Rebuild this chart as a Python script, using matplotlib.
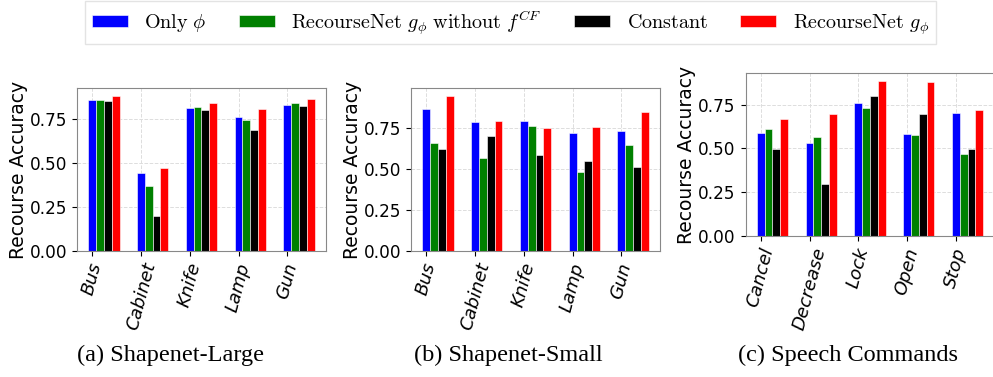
import matplotlib
matplotlib.use("Agg")
import matplotlib.pyplot as plt
from matplotlib.ticker import MultipleLocator
import numpy as np

plt.rcParams['mathtext.fontset'] = 'cm'

# category names per dataset
shapenet_cats = ['Bus', 'Cabinet', 'Knife', 'Lamp', 'Gun']
speech_cats = ['Cancel', 'Decrease', 'Lock', 'Open', 'Stop']

# recourse accuracy, one list per method (Only phi, w/o f_CF, Constant, RecourseNet)
large_only = [0.858, 0.445, 0.813, 0.761, 0.826]
large_nocf = [0.858, 0.371, 0.817, 0.742, 0.838]
large_const = [0.849, 0.200, 0.798, 0.685, 0.822]
large_rnet = [0.881, 0.472, 0.840, 0.807, 0.862]

small_only = [0.868, 0.787, 0.793, 0.721, 0.734]
small_nocf = [0.660, 0.569, 0.762, 0.483, 0.644]
small_const = [0.624, 0.699, 0.585, 0.550, 0.512]
small_rnet = [0.946, 0.793, 0.750, 0.758, 0.844]

speech_only = [0.587, 0.528, 0.761, 0.582, 0.700]
speech_nocf = [0.612, 0.564, 0.733, 0.578, 0.469]
speech_const = [0.497, 0.295, 0.800, 0.698, 0.497]
speech_rnet = [0.670, 0.694, 0.884, 0.876, 0.721]

labels = [r'$\mathrm{Only}\ \phi$',
          r'$\mathrm{RecourseNet}\ g_\phi\ \mathrm{without}\ f^{CF}$',
          r'$\mathrm{Constant}$',
          r'$\mathrm{RecourseNet}\ g_\phi$']
colors = ['blue', 'green', 'black', 'red']
captions = ['(a) Shapenet-Large', '(b) Shapenet-Small', '(c) Speech Commands']


def drawPanel(ax, cats, series):
    x = np.arange(len(cats))
    w = 0.16
    bars = []
    for k, vals in enumerate(series):
        b = ax.bar(x + k * w, vals, w, color=colors[k], edgecolor='white',
                   linewidth=0.4, label=labels[k])
        bars.append(b)
    ax.set_xticks(x)
    ax.set_xticklabels(cats, rotation=75, fontsize=13, style='italic')
    ax.yaxis.set_major_locator(MultipleLocator(0.25))
    ax.tick_params(axis='y', labelsize=12.2)
    ax.set_ylabel('Recourse Accuracy', fontsize=13.5, labelpad=1.5)
    ax.set_axisbelow(True)
    ax.grid(True, color='#dddddd', linestyle='--', linewidth=0.7)
    for s in ax.spines.values():
        s.set_color('#888888')
    return bars


fig = plt.figure(figsize=(9.93, 3.77), dpi=100)
ax1 = fig.add_axes([0.0775, 0.3342, 0.2508, 0.4324])
ax2 = fig.add_axes([0.4139, 0.3342, 0.2508, 0.4324])
ax3 = fig.add_axes([0.7508, 0.374, 0.2508, 0.4316])

bars = drawPanel(ax1, shapenet_cats, [large_only, large_nocf, large_const, large_rnet])
drawPanel(ax2, shapenet_cats, [small_only, small_nocf, small_const, small_rnet])
drawPanel(ax3, speech_cats, [speech_only, speech_nocf, speech_const, speech_rnet])

leg = fig.legend(bars, labels, loc='upper center', bbox_to_anchor=(0.514, 1.025),
                 ncol=4, fontsize=14.5, fancybox=False, edgecolor='#dddddd',
                 handlelength=1.8, handleheight=0.6, columnspacing=1.6,
                 borderpad=0.35)

for xc, cap in zip([0.172, 0.512, 0.854], captions):
    fig.text(xc, 1 - 355 / 377, cap, ha='center', va='center',
             fontsize=17.5, family='Liberation Serif')

fig.savefig('out.png', dpi=100)
